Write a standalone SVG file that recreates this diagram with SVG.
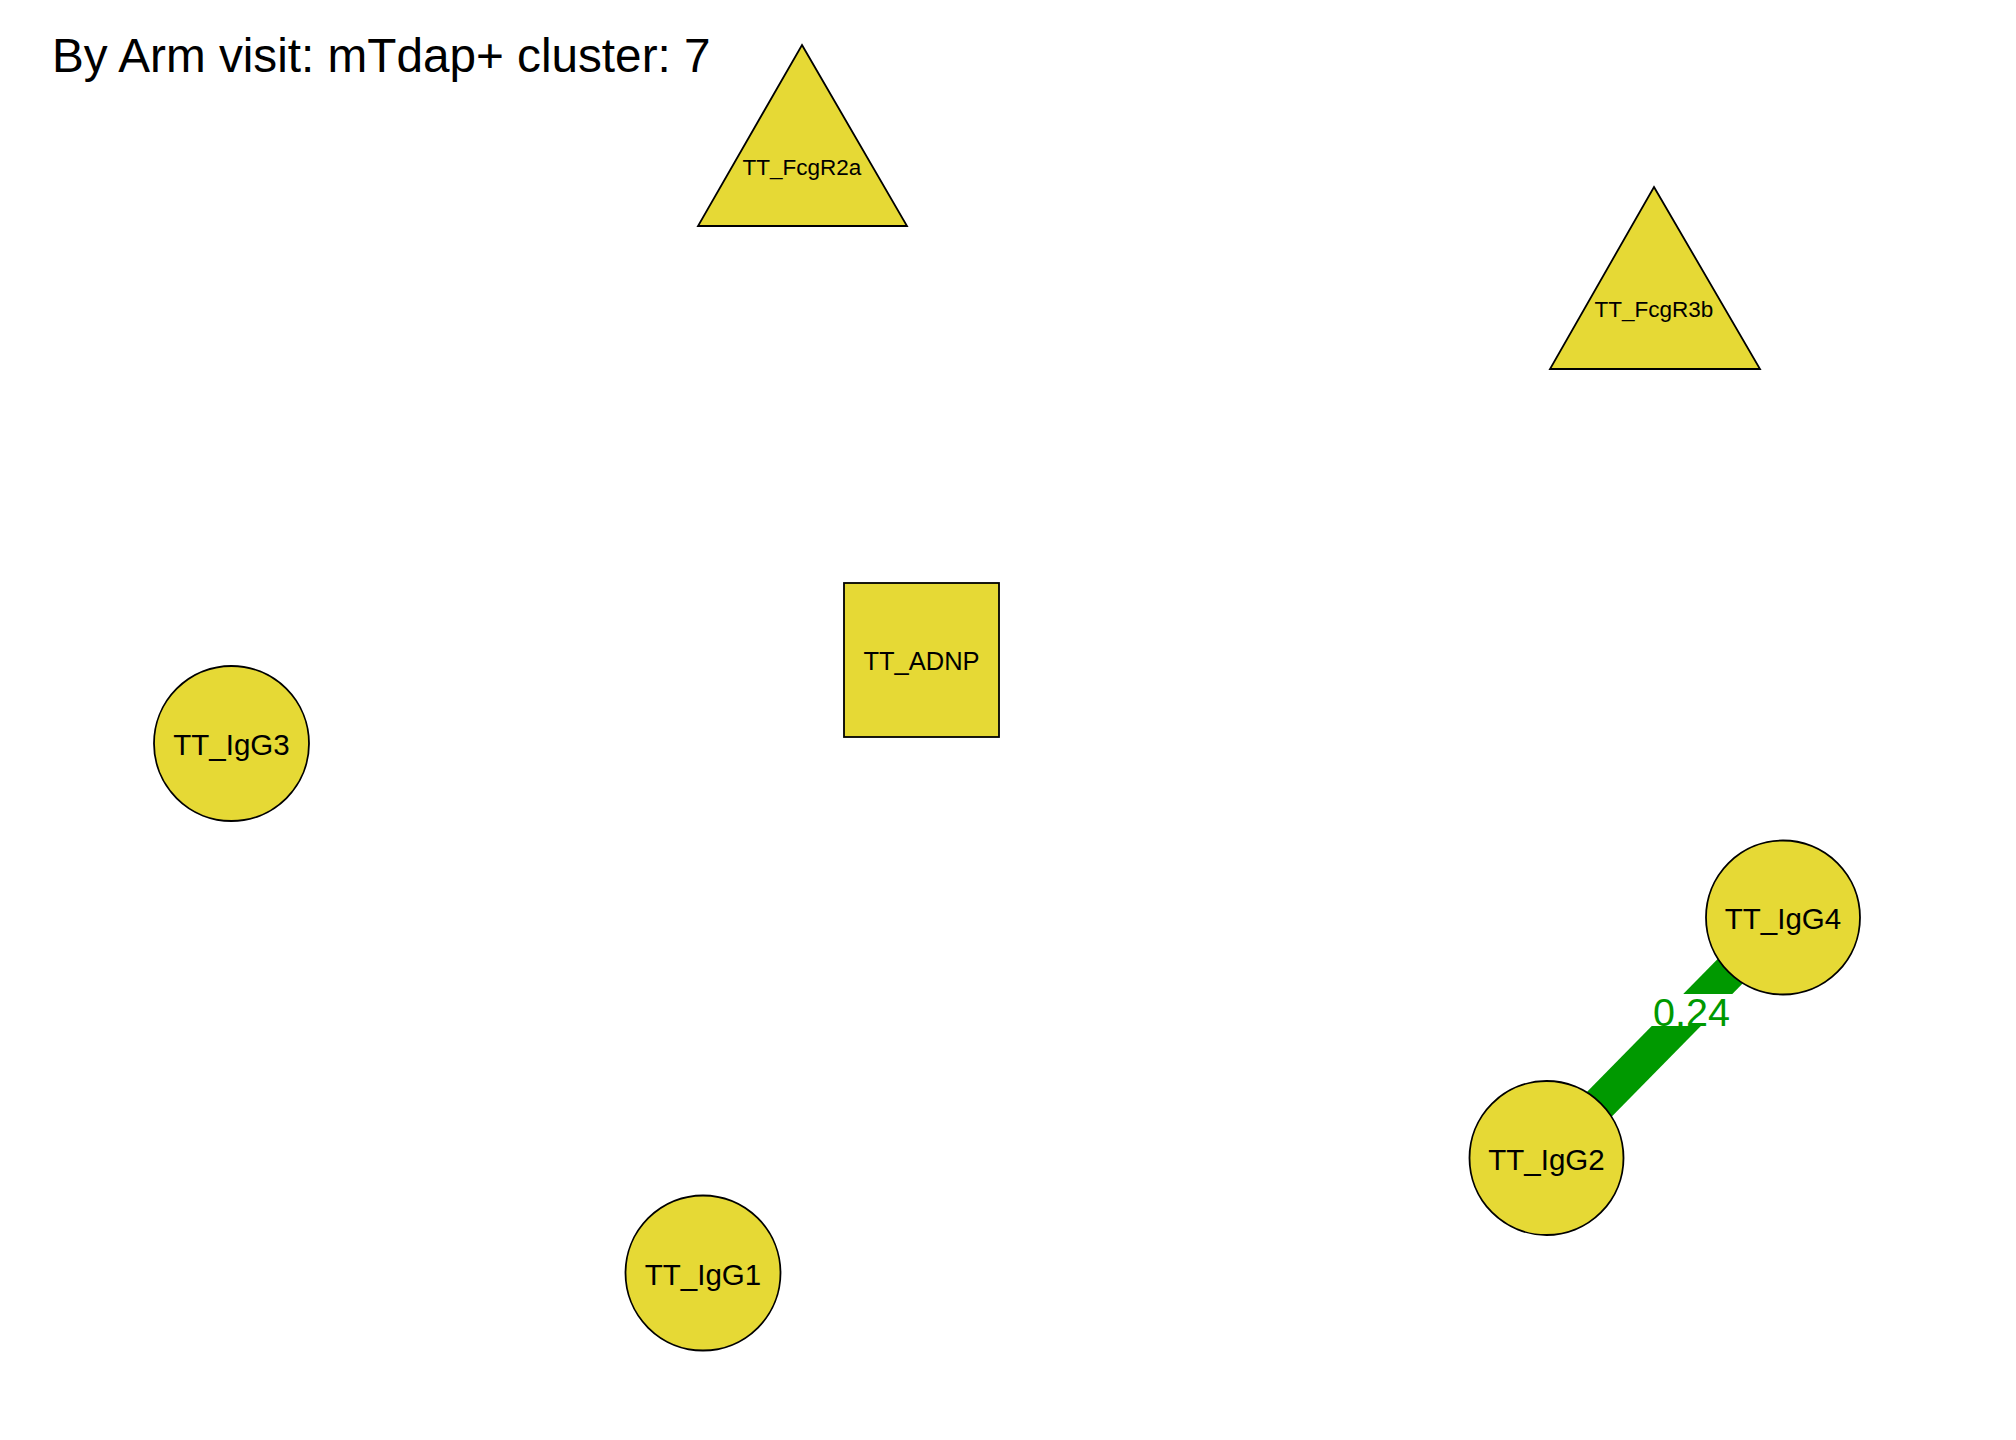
<svg xmlns="http://www.w3.org/2000/svg" width="2016" height="1440" viewBox="0 0 2016 1440">
<style>
.node{fill:#E6D935;stroke:#000;stroke-width:1.8}
.lbl{font-family:"Liberation Sans",Arial,sans-serif;fill:#000;text-anchor:middle}
.big{font-size:29.5px}
.sm{font-size:22.5px}
.sq{font-size:25.5px}
</style>
<rect width="2016" height="1440" fill="#fff"/>
<text x="52" y="72" font-family="'Liberation Sans',Arial,sans-serif" font-size="47.7" fill="#000">By Arm visit: mTdap+ cluster: 7</text>
<g id="connectors">
<line x1="1546.5" y1="1158" x2="1783" y2="917.5" stroke="#009900" stroke-width="35"/>
<rect x="1640" y="994" width="100" height="32" fill="#fff"/>
<text x="1691.5" y="1026" font-family="'Liberation Sans',Arial,sans-serif" font-size="39.5" fill="#009900" text-anchor="middle">0.24</text>
</g>
<g id="TT_FcgR2a">
<polygon class="node" points="802,45 907,226 698,226"/>
<text class="lbl sm" x="802" y="175">TT_FcgR2a</text>
</g>
<g id="TT_FcgR3b">
<polygon class="node" points="1654,187 1760,369 1550,369"/>
<text class="lbl sm" x="1654" y="317">TT_FcgR3b</text>
</g>
<g id="TT_ADNP">
<rect class="node" x="844" y="583" width="155" height="154"/>
<text class="lbl sq" x="921.5" y="670">TT_ADNP</text>
</g>
<g id="TT_IgG3">
<circle class="node" cx="231.5" cy="743.5" r="77.5"/>
<text class="lbl big" x="231.5" y="755">TT_IgG3</text>
</g>
<g id="TT_IgG1">
<circle class="node" cx="703" cy="1273" r="77.5"/>
<text class="lbl big" x="703" y="1285">TT_IgG1</text>
</g>
<g id="TT_IgG4">
<circle class="node" cx="1783" cy="917.5" r="77"/>
<text class="lbl big" x="1783" y="929">TT_IgG4</text>
</g>
<g id="TT_IgG2">
<circle class="node" cx="1546.5" cy="1158" r="77"/>
<text class="lbl big" x="1546.5" y="1169.5">TT_IgG2</text>
</g>
</svg>
